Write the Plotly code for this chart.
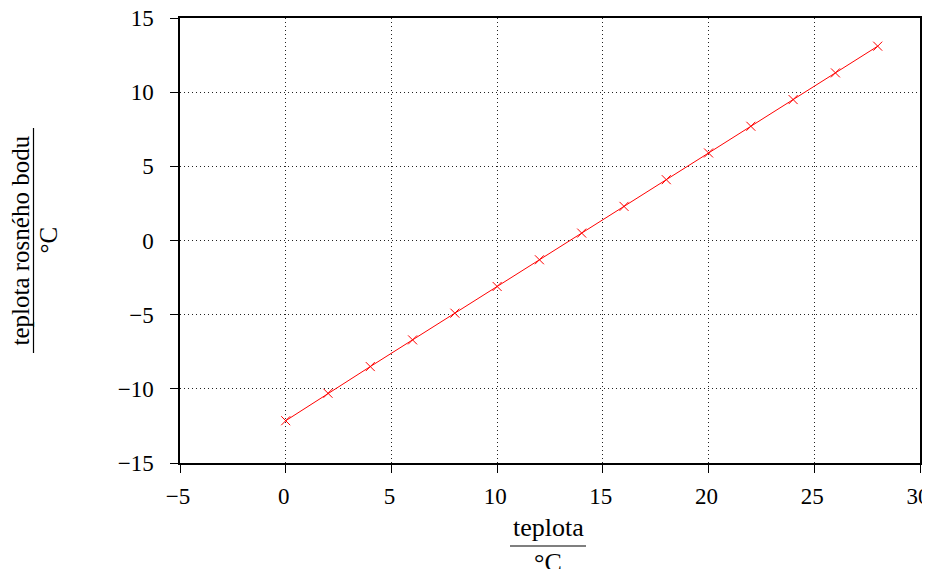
import plotly.graph_objects as go

temperature = [0, 2, 4, 6, 8, 10, 12, 14, 16, 18, 20, 22, 24, 26, 28]
dew_point = [-12.15, -10.3, -8.5, -6.7, -4.9, -3.1, -1.3, 0.5, 2.3, 4.1, 5.9, 7.7, 9.5, 11.3, 13.1]
x_ticks = [-5, 0, 5, 10, 15, 20, 25, 30]
y_ticks = [-15, -10, -5, 0, 5, 10, 15]

FONT = "Liberation Serif"
OFF = 8  # page body margin offset
W, H = 930 - OFF, 569 - OFF
L, T = 180 - OFF, 18 - OFF
PW, PH = 740, 445
R, B = W - L - PW, H - T - PH


def px_x(p):
    return (p - OFF - L) / PW


def px_y(p):
    return (T + PH - (p - OFF)) / PH


fig = go.Figure()
fig.add_trace(go.Scatter(
    x=temperature, y=dew_point, mode="lines+markers",
    line=dict(color="red", width=1),
    marker=dict(symbol="x-thin", size=9, line=dict(color="red", width=1)),
    showlegend=False, cliponaxis=False,
))

axis_common = dict(
    showline=True, linecolor="black", linewidth=1.5, mirror=True,
    ticks="outside", ticklen=8, tickcolor="black", tickwidth=1,
    showgrid=True, gridcolor="#222", gridwidth=1, griddash="1px,3px",
    zeroline=False, automargin=False, ticklabeloverflow="allow",
    tickfont=dict(family=FONT, size=23, color="black"),
)

fig.update_xaxes(range=[-5, 30], tickvals=x_ticks, ticklabelstandoff=4,
                 ticklabelshift=-2, **axis_common)
fig.update_yaxes(range=[-15, 15], tickvals=y_ticks, ticklabelstandoff=12, **axis_common)

fig.update_layout(
    width=W, height=H,
    margin=dict(l=L, r=R, t=T, b=B, autoexpand=False),
    plot_bgcolor="white", paper_bgcolor="white",
    font=dict(family=FONT, size=22, color="black"),
)

TF = dict(family=FONT, size=25, color="black")
TFX = dict(family=FONT, size=26, color="black")

# x-axis title as a fraction
fig.add_annotation(text="teplota", xref="paper", yref="paper", x=px_x(548), y=px_y(527),
                   showarrow=False, font=TFX, xanchor="center", yanchor="middle")
fig.add_annotation(text="°C", xref="paper", yref="paper", x=px_x(548), y=px_y(562),
                   showarrow=False, font=TFX, xanchor="center", yanchor="middle")
fig.add_shape(type="line", xref="paper", yref="paper", x0=px_x(510), x1=px_x(586),
              y0=px_y(546), y1=px_y(546), line=dict(color="black", width=1.2))

# y-axis title as a fraction (rotated)
fig.add_annotation(text="teplota rosného bodu", xref="paper", yref="paper",
                   x=px_x(20), y=px_y(240.5), xanchor="center", yanchor="middle",
                   textangle=-90, showarrow=False, font=TF)
fig.add_annotation(text="°C", xref="paper", yref="paper",
                   x=px_x(48), y=px_y(240.5), xanchor="center", yanchor="middle",
                   textangle=-90, showarrow=False, font=TF)
fig.add_shape(type="line", xref="paper", yref="paper", x0=px_x(33.5), x1=px_x(33.5),
              y0=px_y(353), y1=px_y(128), line=dict(color="black", width=1.2))

fig.write_html("out.html")
